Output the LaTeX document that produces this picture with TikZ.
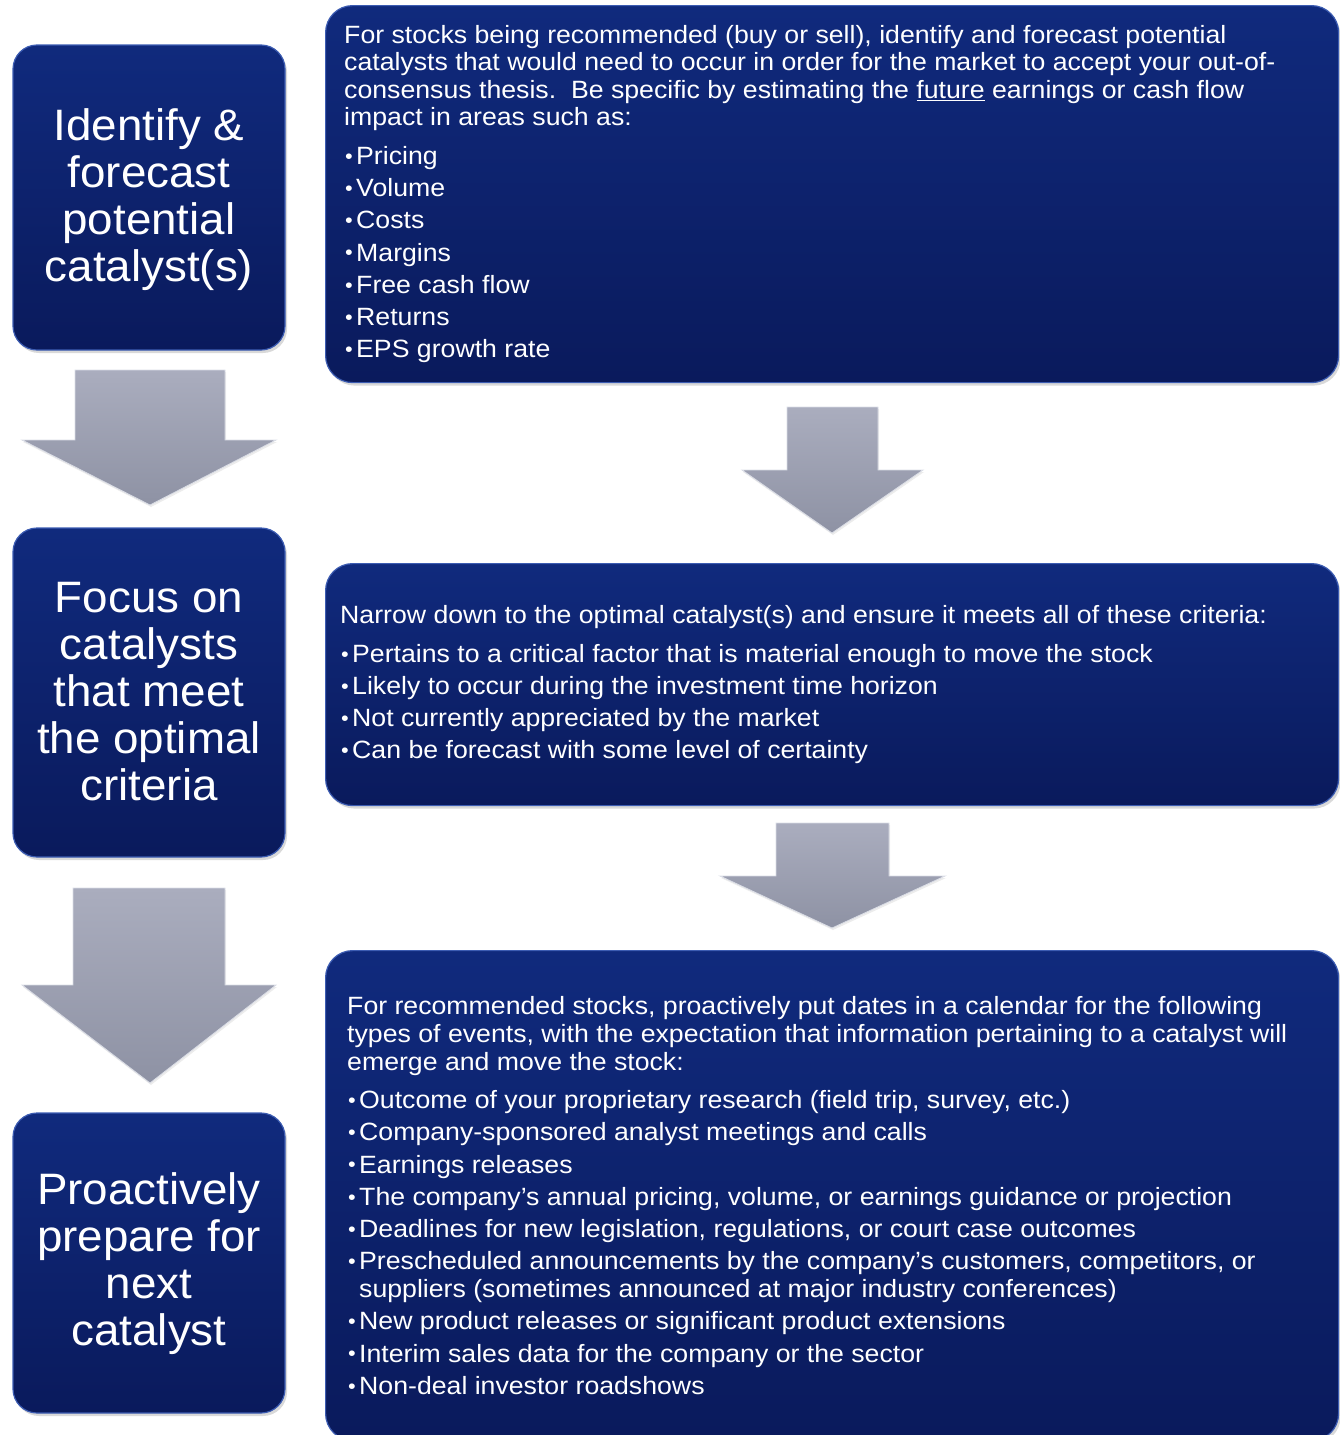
\documentclass[tikz,border=0pt]{standalone}
\usepackage{fontspec}
\setmainfont{Liberation Sans}[FakeStretch=1.067]
\newfontfamily\leftfont{Liberation Sans}[FakeStretch=1.04]
\usetikzlibrary{shadows}
\definecolor{boxtop}{RGB}{16,42,125}
\definecolor{boxbot}{RGB}{10,26,92}
\definecolor{boxedge}{RGB}{60,92,178}
\definecolor{arrtop}{RGB}{170,173,190}
\definecolor{arrbot}{RGB}{142,146,164}
\definecolor{arredge}{RGB}{218,221,230}
\newcommand\bul{\makebox[12pt][l]{\hspace{1pt}\raisebox{1.2pt}{\scalebox{0.82}{•}}}}
\begin{document}
\begin{tikzpicture}[x=1pt,y=-1pt,
  bluebox/.style={rectangle, rounded corners=27pt, top color=boxtop, bottom color=boxbot,
    draw=boxedge, line width=1.2pt,
    drop shadow={opacity=0.3,shadow xshift=2pt,shadow yshift=-3pt}, inner sep=0pt},
  leftbox/.style={bluebox, rounded corners=24pt, minimum width=272pt},
  lefttext/.style={text=white, align=center, font=\leftfont\fontsize{44}{47}\selectfont},
  bodytext/.style={text=white, align=left, inner sep=0pt, anchor=west,
    font=\fontsize{25}{27.4}\selectfont},
  blockarrow/.style={top color=arrtop, bottom color=arrbot, draw=arredge, line width=0.8pt,
    drop shadow={opacity=0.15,shadow xshift=1pt,shadow yshift=-2pt}}
]
\path[use as bounding box] (0,0) rectangle (1340,1435);
\clip (0,0) rectangle (1340,1435);

% left boxes
\node[leftbox, minimum height=305pt] (L1) at (149,197.5) {};
\node[lefttext] (L1t) at (149,199.5)
  {Identify \&\\forecast\\potential\\catalyst(s)};
\node[leftbox, minimum height=329pt] (L2) at (149,692.5) {};
\node[lefttext] (L2t) at (149,692)
  {Focus on\\catalysts\\that meet\\the optimal\\criteria};
\node[leftbox, minimum height=300pt] (L3) at (149,1263) {};
\node[lefttext] (L3t) at (149,1264)
  {Proactively\\prepare for\\next\\catalyst};

% right boxes
\node[bluebox, minimum width=1013pt, minimum height=377pt, anchor=north west] (R1) at (325,5) {};
\node[bluebox, minimum width=1013pt, minimum height=242pt, anchor=north west] (R2) at (325,563) {};
\node[bluebox, minimum width=1013pt, minimum height=490pt, anchor=north west] (R3) at (325,950) {};

\node[bodytext] (T1) at ([xshift=19pt]R1.west)
  {For stocks being recommended (buy or sell), identify and forecast potential\\
   catalysts that would need to occur in order for the market to accept your out-of-\\
   consensus thesis.\ \ Be specific by estimating the \underline{future} earnings or cash flow\\
   impact in areas such as:\\[11.5pt]
   \bul Pricing\\[4.8pt]
   \bul Volume\\[4.8pt]
   \bul Costs\\[4.8pt]
   \bul Margins\\[4.8pt]
   \bul Free cash flow\\[4.8pt]
   \bul Returns\\[4.8pt]
   \bul EPS growth rate};

\node[bodytext] (T2) at ([xshift=15pt]R2.west)
  {Narrow down to the optimal catalyst(s) and ensure it meets all of these criteria:\\[11.5pt]
   \bul Pertains to a critical factor that is material enough to move the stock\\[4.8pt]
   \bul Likely to occur during the investment time horizon\\[4.8pt]
   \bul Not currently appreciated by the market\\[4.8pt]
   \bul Can be forecast with some level of certainty};

\node[bodytext, font=\fontsize{25}{28}\selectfont] (T3) at ([xshift=22pt]R3.west)
  {For recommended stocks, proactively put dates in a calendar for the following\\
   types of events, with the expectation that information pertaining to a catalyst will\\
   emerge and move the stock:\\[10pt]
   \bul Outcome of your proprietary research (field trip, survey, etc.)\\[4.2pt]
   \bul Company-sponsored analyst meetings and calls\\[4.2pt]
   \bul Earnings releases\\[4.2pt]
   \bul The company’s annual pricing, volume, or earnings guidance or projection\\[4.2pt]
   \bul Deadlines for new legislation, regulations, or court case outcomes\\[4.2pt]
   \bul Prescheduled announcements by the company’s customers, competitors, or\\
   \hphantom{\bul}suppliers (sometimes announced at major industry conferences)\\[4.2pt]
   \bul New product releases or significant product extensions\\[4.2pt]
   \bul Interim sales data for the company or the sector\\[4.2pt]
   \bul Non-deal investor roadshows};

% block arrows
\path[blockarrow] (75,370) -- (225,370) -- (225,440) -- (276,440) -- (150,505)
  -- (22,440) -- (75,440) -- cycle;
\path[blockarrow] (73,888) -- (225,888) -- (225,985) -- (276,985) -- (150,1083)
  -- (22,985) -- (73,985) -- cycle;
\path[blockarrow] (787,407) -- (878,407) -- (878,470) -- (923,470) -- (832,533)
  -- (742,470) -- (787,470) -- cycle;
\path[blockarrow] (776,823) -- (889,823) -- (889,876) -- (945,876) -- (832,928)
  -- (720,876) -- (776,876) -- cycle;
\end{tikzpicture}
\end{document}
